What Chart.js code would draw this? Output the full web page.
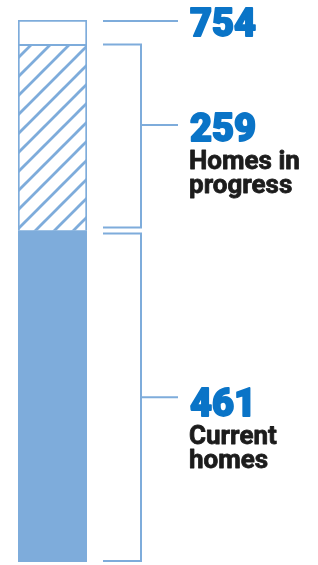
<!DOCTYPE html>
<html>
<head>
<meta charset="utf-8">
<script src="https://cdn.jsdelivr.net/npm/chart.js@4/dist/chart.umd.min.js"></script>
<style>
  html, body { margin: 0; padding: 0; background: #fff; }
  #wrap { width: 318px; height: 565px; position: relative; }
</style>
</head>
<body>
<div id="wrap"><canvas id="chart"></canvas></div>
<script>
const categories = [`Homes`];
const currentHomes = [461];
const homesInProgress = [259];
const totalHomes = [754];
const segmentLabels = [[`Current`, `homes`], [`Homes in`, `progress`]];

const remainder = totalHomes.map((t, i) => t - currentHomes[i] - homesInProgress[i]);

const lightBlue = `#7eacdb`;
const numberBlue = `#0a74c7`;

const makeHatch = () => {
  const size = 19;
  const c = document.createElement(`canvas`);
  c.width = size;
  c.height = size;
  const g = c.getContext(`2d`);
  g.fillStyle = `#fff`;
  g.fillRect(0, 0, size, size);
  g.strokeStyle = lightBlue;
  g.lineWidth = 2.8;
  g.beginPath();
  g.moveTo(-2, size + 2); g.lineTo(size + 2, -2);
  g.moveTo(-2, 2); g.lineTo(2, -2);
  g.moveTo(size - 2, size + 2); g.lineTo(size + 2, size - 2);
  g.stroke();
  return g.createPattern(c, `repeat`);
};

// brackets and labels drawn next to the bar, positioned from the y scale
const bracketPlugin = {
  id: `brackets`,
  afterDraw(chart) {
    const ctx = chart.ctx;
    const y = chart.scales.y;
    const x0 = 103, xv = 141, xt = 178, tx = 190;
    ctx.save();
    ctx.strokeStyle = lightBlue;
    ctx.lineWidth = 2;

    const line = (pts) => {
      ctx.beginPath();
      pts.forEach(([px, py], i) => i ? ctx.lineTo(px, py) : ctx.moveTo(px, py));
      ctx.stroke();
    };

    // total
    const yTotal = y.getPixelForValue(totalHomes[0]) + 1;
    line([[x0, yTotal], [xt, yTotal]]);

    // homes in progress
    const pTop = y.getPixelForValue(currentHomes[0] + homesInProgress[0]);
    const pBot = y.getPixelForValue(currentHomes[0]) - 3;
    line([[x0, pTop], [xv, pTop], [xv, pBot], [x0, pBot]]);
    const pTick = (pTop + pBot) / 2 - 11;
    line([[xv, pTick], [xt, pTick]]);

    // current homes
    const cTop = y.getPixelForValue(currentHomes[0]) + 3;
    const cBot = y.getPixelForValue(0) - 1;
    line([[x0, cTop], [xv, cTop], [xv, cBot], [x0, cBot]]);
    const cTick = (cTop + cBot) / 2;
    line([[xv, cTick], [xt, cTick]]);

    ctx.textAlign = `left`;
    ctx.textBaseline = `alphabetic`;
    ctx.lineJoin = `round`;
    const num = (v, by) => {
      ctx.fillStyle = numberBlue;
      ctx.strokeStyle = numberBlue;
      ctx.lineWidth = 1.8;
      ctx.font = `900 38px Roboto`;
      ctx.fillText(String(v), tx, by);
      ctx.strokeText(String(v), tx, by);
    };
    const words = (lines, by) => {
      ctx.fillStyle = `#1c1c1c`;
      ctx.strokeStyle = `#1c1c1c`;
      ctx.lineWidth = 0.8;
      ctx.font = `bold 26px Roboto`;
      lines.forEach((l, i) => {
        ctx.fillText(l, tx - 1, by + i * 24);
        ctx.strokeText(l, tx - 1, by + i * 24);
      });
    };

    num(totalHomes[0], yTotal + 15);
    num(homesInProgress[0], pTick + 16);
    words(segmentLabels[1], pTick + 44);
    num(currentHomes[0], cTick + 19);
    words(segmentLabels[0], cTick + 47);
    ctx.restore();
  }
};

new Chart(document.getElementById(`chart`), {
  type: `bar`,
  data: {
    labels: categories,
    datasets: [{
      label: `Current homes`,
      data: currentHomes,
      backgroundColor: lightBlue,
      borderWidth: 0
    }, {
      label: `Homes in progress`,
      data: homesInProgress,
      backgroundColor: makeHatch(),
      borderColor: lightBlue,
      borderWidth: 2
    }, {
      label: `Remaining`,
      data: remainder,
      backgroundColor: `#fff`,
      borderColor: lightBlue,
      borderWidth: 2
    }]
  },
  options: {
    responsive: true,
    maintainAspectRatio: false,
    animation: false,
    barPercentage: 1,
    categoryPercentage: 1,
    layout: { padding: { left: 18, right: 231, top: 20, bottom: 3 } },
    scales: {
      x: { display: false, stacked: true },
      y: { display: false, stacked: true, min: 0, max: totalHomes[0] }
    },
    plugins: { legend: { display: false }, tooltip: { enabled: false } }
  },
  plugins: [bracketPlugin]
});
</script>
</body>
</html>
